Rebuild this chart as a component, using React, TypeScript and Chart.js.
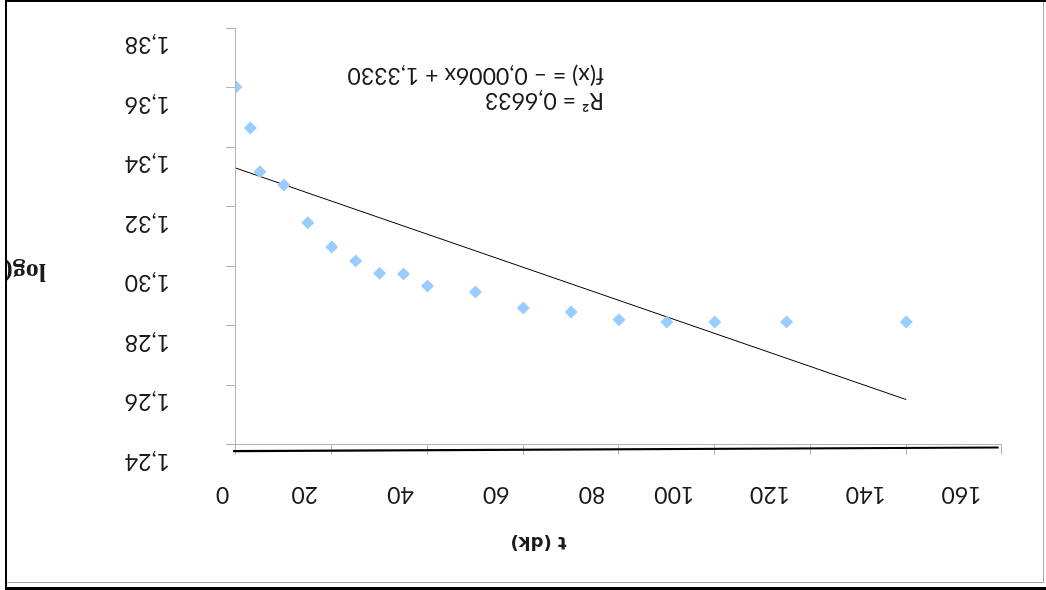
import React, { useEffect, useRef } from 'react';
import { Chart, registerables } from 'chart.js';

Chart.register(...registerables);

// ---- data ----
const tValues = [0, 3, 5, 10, 15, 20, 25, 30, 35, 40, 50, 60, 70, 80, 90, 100, 115, 140];
const logValues = [
  1.3603, 1.3465, 1.3318, 1.3273, 1.3146, 1.3065, 1.3018, 1.2977, 1.2974,
  1.2934, 1.2914, 1.286, 1.2846, 1.282, 1.2813, 1.2813, 1.2813, 1.2813,
];
const trendT = [0, 140];
const trendLog = [1.333, 1.2552];
const baseT = [-0.6, 159.3];
const baseLog = [1.2379, 1.2391];

const xTickLabels = ['0', '20', '40', '60', '80', '100', '120', '140', '160'];
const yTickLabels = ['1,24', '1,26', '1,28', '1,30', '1,32', '1,34', '1,36', '1,38'];
const xTitle = 't (dk)';
const yTitle = 'log(';
const r2Line = 'R² = 0,6633';
const eqLine = 'f(x) = – 0,0006x + 1,3330';

const W = 1046;
const H = 590;
const LABEL_FONT = '23px Lato';

const textPlugin = {
  id: 'rotatedTexts',
  afterDraw(chart: any) {
    const { ctx, chartArea } = chart;
    const xs = chart.scales.x;
    const ys = chart.scales.y;
    ctx.save();
    ctx.fillStyle = '#1a1a1a';
    ctx.font = LABEL_FONT;
    ctx.textBaseline = 'alphabetic';
    ctx.textAlign = 'center';
    xTickLabels.forEach((l) => {
      const px = xs.getPixelForValue(Number(l));
      ctx.fillText(l, px + 13.5 * l.length, chartArea.top - 42);
    });
    ctx.textAlign = 'left';
    yTickLabels.forEach((l) => {
      const py = ys.getPixelForValue(Number(l.replace(',', '.')));
      ctx.fillText(l, chartArea.right + 66, py - 9);
    });
    ctx.fillText(r2Line, 442, 497);
    ctx.fillText(eqLine, 442, 521.5);

    ctx.font = 'bold 18px "DejaVu Sans"';
    ctx.textAlign = 'center';
    ctx.fillText(xTitle, 507.5, 52.6);

    ctx.beginPath();
    ctx.rect(0, 0, 1039, H);
    ctx.clip();
    ctx.font = 'bold 26px "Liberation Serif"';
    ctx.textAlign = 'left';
    ctx.fillText(yTitle, 1000, 326);
    ctx.restore();
  },
};

export default function App() {
  const ref = useRef<HTMLCanvasElement>(null);

  useEffect(() => {
    if (!ref.current) return;
    const axisColor = '#b3b3b3';
    const chart = new Chart(ref.current, {
      type: 'scatter',
      data: {
        datasets: [
          {
            label: 'log',
            data: tValues.map((t, i) => ({ x: t, y: logValues[i] })),
            pointStyle: 'rectRot',
            pointRadius: 6.5,
            pointHoverRadius: 6.5,
            backgroundColor: '#99ccff',
            borderColor: '#99ccff',
            borderWidth: 0,
            showLine: false,
          },
          {
            label: 'trend',
            data: trendT.map((t, i) => ({ x: t, y: trendLog[i] })),
            showLine: true,
            borderColor: '#000000',
            borderWidth: 1,
            pointRadius: 0,
            fill: false,
          },
          {
            label: 'base',
            data: baseT.map((t, i) => ({ x: t, y: baseLog[i] })),
            showLine: true,
            borderColor: '#000000',
            borderWidth: 2.2,
            pointRadius: 0,
            fill: false,
            clip: false as any,
          },
        ],
      },
      options: {
        animation: false,
        responsive: false,
        devicePixelRatio: 1,
        events: [],
        layout: {
          autoPadding: false,
          padding: { left: 44, right: 226, top: 135.2, bottom: 28.3 },
        },
        plugins: {
          legend: { display: false },
          tooltip: { enabled: false },
          title: { display: false },
        },
        scales: {
          x: {
            type: 'linear',
            position: 'top',
            reverse: true,
            min: 0,
            max: 160,
            ticks: { stepSize: 20, display: false },
            grid: {
              display: true,
              drawOnChartArea: false,
              drawTicks: true,
              tickLength: 10,
              color: axisColor,
            },
            border: { display: true, color: axisColor, width: 1 },
          },
          y: {
            type: 'linear',
            position: 'right',
            reverse: true,
            min: 1.24,
            max: 1.38,
            ticks: { stepSize: 0.02, display: false },
            grid: {
              display: true,
              drawOnChartArea: false,
              drawTicks: true,
              tickLength: 10,
              color: axisColor,
            },
            border: { display: true, color: axisColor, width: 1 },
          },
        },
      },
      plugins: [textPlugin],
    });
    return () => chart.destroy();
  }, []);

  const box = (l: number, t: number, w: number, h: number, c: string) => (
    <div
      style={{ position: 'absolute', left: l, top: t, width: w, height: h, background: c }}
    />
  );

  return (
    <div
      style={{
        position: 'fixed',
        left: 0,
        top: 0,
        width: W,
        height: H,
        background: '#ffffff',
        overflow: 'hidden',
        transform: 'rotate(180deg)',
        transformOrigin: '50% 50%',
      }}
    >
      <canvas
        ref={ref}
        width={W}
        height={H}
        style={{ position: 'absolute', left: 0, top: 0, width: W, height: H }}
      />
      {box(1039, 0, 2, H, '#000')}
      {box(0, 0, 1041, 3, '#000')}
      {box(0, 588, 1041, 2, '#000')}
      {box(2, 8, 1, 580, '#a8a8a8')}
      {box(2, 7, 1037, 1, '#a8a8a8')}
    </div>
  );
}
